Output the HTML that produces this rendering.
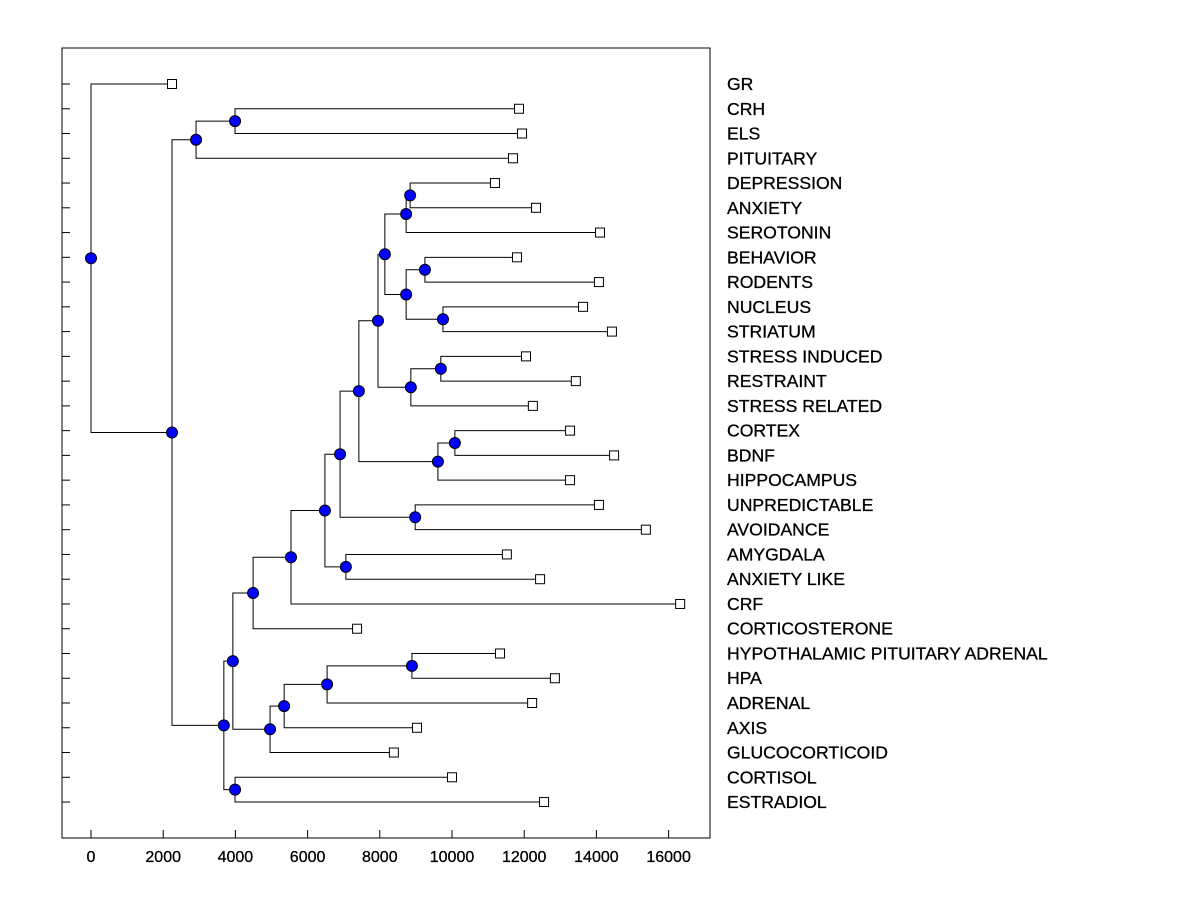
<!DOCTYPE html>
<html><head><meta charset="utf-8"><style>
body{margin:0;background:#fff;}
svg text{font-family:"Liberation Sans",Arial,sans-serif;}
</style></head><body>
<svg id="chart" width="1200" height="900" xmlns="http://www.w3.org/2000/svg">
<rect x="62" y="48" width="648" height="790" fill="none" stroke="#000" stroke-width="1"/>
<g id="links"></g><g id="marks"></g><g id="labels"></g><g id="axis"></g>
</svg>
<script>
const leafNames = ["GR","CRH","ELS","PITUITARY","DEPRESSION","ANXIETY","SEROTONIN","BEHAVIOR","RODENTS","NUCLEUS","STRIATUM","STRESS INDUCED","RESTRAINT","STRESS RELATED","CORTEX","BDNF","HIPPOCAMPUS","UNPREDICTABLE","AVOIDANCE","AMYGDALA","ANXIETY LIKE","CRF","CORTICOSTERONE","HYPOTHALAMIC PITUITARY ADRENAL","HPA","ADRENAL","AXIS","GLUCOCORTICOID","CORTISOL","ESTRADIOL"];
const leafValues = [2244,11856,11940,11690,11190,12327,14100,11800,14070,13630,14430,12050,13430,12240,13270,14490,13270,14070,15370,11520,12440,16320,7370,11330,12850,12220,9030,8390,10000,12550];
// merges: [childA, childB, height]; child >= 0 is leaf index, child < 0 is merge -(k+1)
const mergeA = [4,-1,7,9,-3,-2,11,-7,-6,14,-10,-9,17,-12,19,-14,-16,-17,23,-19,-20,-21,-18,28,-23,1,-26,-27,0];
const mergeB = [5,6,8,10,-4,-5,12,13,-8,15,16,-11,18,-13,20,-15,21,22,24,25,26,27,-22,29,-24,2,3,-25,-28];
const mergeH = [8840,8730,9250,9750,8730,8140,9690,8860,7950,10080,9610,7420,8980,6900,7060,6480,5540,4490,8890,6540,5350,4960,3930,3990,3680,3990,2910,2244,0];
const xTicks = [0,2000,4000,6000,8000,10000,12000,14000,16000];

const NS="http://www.w3.org/2000/svg";
const X = v => 91 + v*0.0361;
const Y = i => 84 + i*24.76;
function mk(tag, attrs, parent){const e=document.createElementNS(NS,tag);for(const k in attrs)e.setAttribute(k,attrs[k]);document.getElementById(parent).appendChild(e);return e;}
const nodeY=[];
function cy(c){return c>=0?Y(c):nodeY[-c-1];}
function cx(c){return c>=0?X(leafValues[c]):X(mergeH[-c-1]);}
for(let k=0;k<mergeH.length;k++){
  const a=mergeA[k],b=mergeB[k];
  const ya=cy(a),yb=cy(b),x=X(mergeH[k]);
  nodeY[k]=(ya+yb)/2;
  const p=mk('path',{d:`M${cx(a)},${ya}H${x}V${yb}H${cx(b)}`,fill:'none',stroke:'#000','stroke-width':1},'links');
  
  
}
for(let k=0;k<mergeH.length;k++){
  const c=mk('circle',{cx:X(mergeH[k]),cy:nodeY[k],r:5.5,fill:'#0000ff',stroke:'#000','stroke-width':1},'marks');
  
  
}
leafNames.forEach((n,i)=>{
  const r=mk('rect',{x:X(leafValues[i])-4.5,y:Y(i)-4.5,width:9,height:9,fill:'#fff',stroke:'#000','stroke-width':1},'marks');
  
  
  const t=mk('line',{x1:62,x2:70,y1:Y(i),y2:Y(i),stroke:'#000'},'axis');
  
  
  const l=mk('text',{x:727,y:Y(i)+6,'font-size':17.6,fill:'#000',stroke:'#000','stroke-width':0.3},'labels');
  l.textContent=n;
  
  
});
xTicks.forEach(v=>{
  const t=mk('line',{x1:X(v),x2:X(v),y1:830,y2:838,stroke:'#000'},'axis');
  
  
  const l=mk('text',{x:X(v),y:862,'font-size':16,'text-anchor':'middle',fill:'#000',stroke:'#000','stroke-width':0.3},'axis');
  l.textContent=v;
  
  
});
</script>
</body></html>
